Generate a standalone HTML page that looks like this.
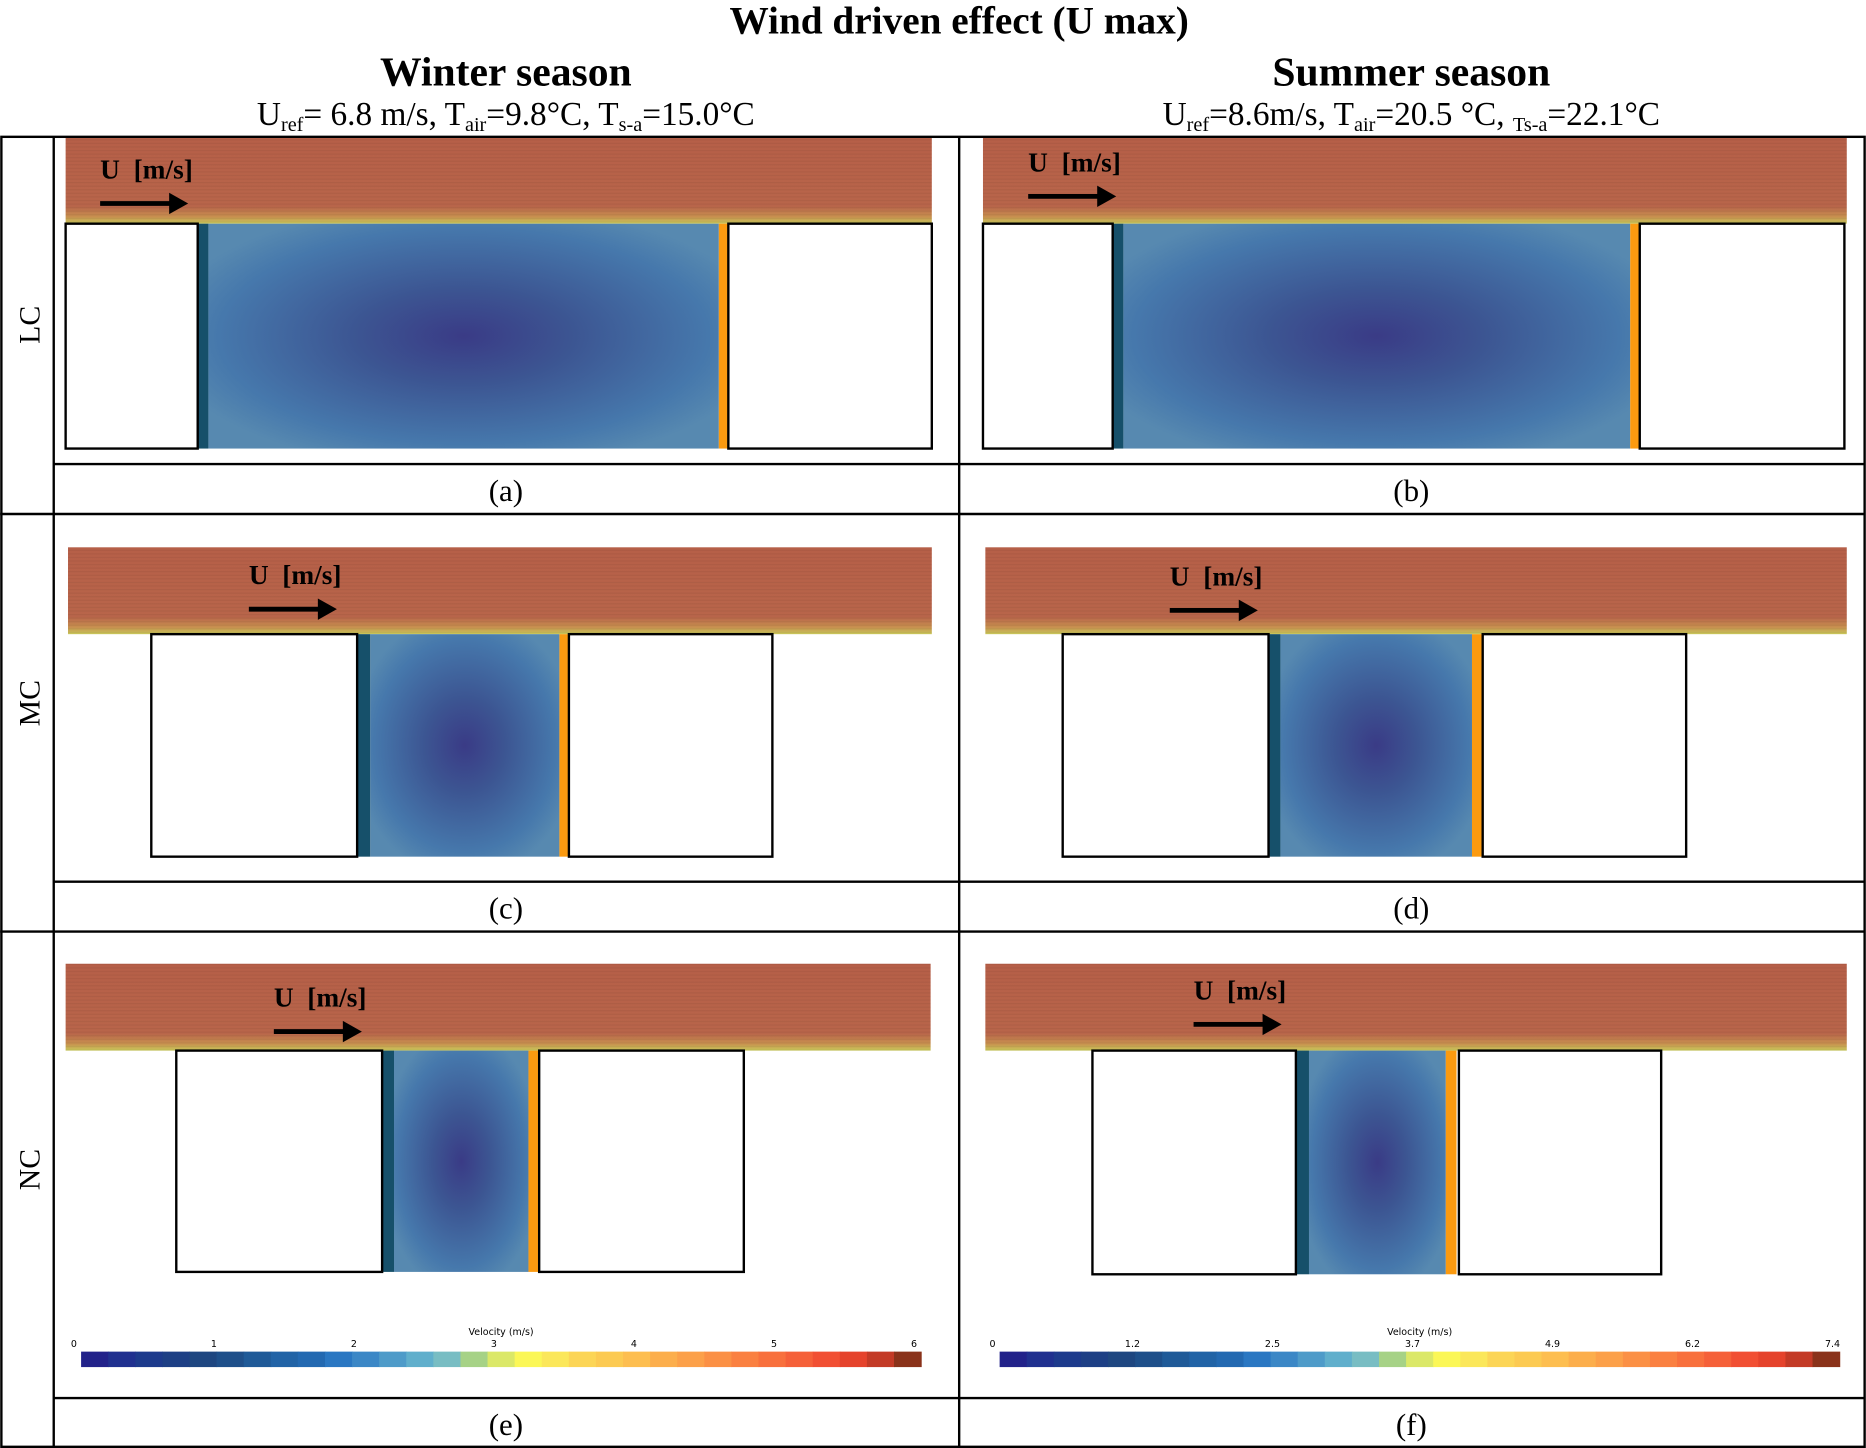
<!DOCTYPE html>
<html><head><meta charset="utf-8"><style>
html,body{margin:0;padding:0;background:#fff}
svg{display:block}
text{font-family:"Liberation Serif",serif}
text.sans{font-family:"DejaVu Sans",sans-serif}
</style></head><body>
<svg id="fig" width="1866" height="1448" viewBox="0 0 1568 1217" xmlns="http://www.w3.org/2000/svg">
<defs>
<linearGradient id="bandG" x1="0" y1="0" x2="0" y2="1">
<stop offset="0" stop-color="#b65f48"/><stop offset="0.8" stop-color="#b8654a"/><stop offset="0.92" stop-color="#c8904f"/><stop offset="1" stop-color="#c9c85a"/></linearGradient>
<radialGradient id="cavG" cx="0.5" cy="0.5" r="0.6">
<stop offset="0" stop-color="#3a3b86"/><stop offset="0.35" stop-color="#3c5592"/><stop offset="0.8" stop-color="#4678ac"/><stop offset="1" stop-color="#5789b0"/></radialGradient>
<pattern id="stripes" width="8" height="3" patternUnits="userSpaceOnUse"><rect width="8" height="1" fill="#000" opacity="0.05"/></pattern>
</defs>
<text x="806" y="28" font-size="33" font-weight="bold" text-anchor="middle">Wind driven effect (U max)</text>
<text x="425" y="72" font-size="35" font-weight="bold" text-anchor="middle">Winter season</text>
<text x="1186" y="72" font-size="35" font-weight="bold" text-anchor="middle">Summer season</text>
<text x="425" y="105" font-size="28" text-anchor="middle">U<tspan font-size="17" dy="5">ref</tspan><tspan dy="-5">= 6.8 m/s, T</tspan><tspan font-size="17" dy="5">air</tspan><tspan dy="-5">=9.8°C, T</tspan><tspan font-size="17" dy="5">s-a</tspan><tspan dy="-5">=15.0°C</tspan></text>
<text x="1186" y="105" font-size="28" text-anchor="middle">U<tspan font-size="17" dy="5">ref</tspan><tspan dy="-5">=8.6m/s, T</tspan><tspan font-size="17" dy="5">air</tspan><tspan dy="-5">=20.5 °C, </tspan><tspan font-size="17" dy="5">Ts-a</tspan><tspan dy="-5">=22.1°C</tspan></text>
<g id="panels"></g>
<g id="grid" stroke="#000" fill="none">
<rect x="1" y="115" width="1566" height="1101" stroke-width="2"/>
<line x1="45" y1="115" x2="45" y2="1217" stroke-width="2"/>
<line x1="806" y1="115" x2="806" y2="1217" stroke-width="2"/>
<line x1="45" y1="390" x2="1567" y2="390" stroke-width="2"/>
<line x1="0" y1="432" x2="1567" y2="432" stroke-width="2"/>
<line x1="45" y1="741" x2="1567" y2="741" stroke-width="2"/>
<line x1="0" y1="783" x2="1567" y2="783" stroke-width="2"/>
<line x1="45" y1="1175" x2="1567" y2="1175" stroke-width="2"/>
</g>
<text transform="translate(33,273) rotate(-90)" font-size="25" text-anchor="middle">LC</text>
<text transform="translate(33,591) rotate(-90)" font-size="25" text-anchor="middle">MC</text>
<text transform="translate(33,983) rotate(-90)" font-size="25" text-anchor="middle">NC</text>
<text x="425" y="421" font-size="26" text-anchor="middle">(a)</text>
<text x="1186" y="421" font-size="26" text-anchor="middle">(b)</text>
<text x="425" y="772" font-size="26" text-anchor="middle">(c)</text>
<text x="1186" y="772" font-size="26" text-anchor="middle">(d)</text>
<text x="425" y="1206" font-size="26" text-anchor="middle">(e)</text>
<text x="1186" y="1206" font-size="26" text-anchor="middle">(f)</text>
<g id="bars"></g>
</svg>
<script>
const NS='http://www.w3.org/2000/svg';
const cbColors=['#22228a','#20308f','#1d3a8c','#1d3f85','#1e4680','#1e4f8a','#1f5a98','#2163a6','#2369b1','#2a77c2','#3b87c6','#4e9bc9','#60afcc','#78bdc3','#a6d286','#dbe868','#fbf757','#fbe75a','#fcd556','#fcca52','#fdbe50','#fcae4c','#fca049','#fb9045','#fa8041','#f8703d','#f56039','#f14f33','#e5432c','#c33a26','#8a321a'];
const winterTicks=['0','1','2','3','4','5','6'];
const summerTicks=['0','1.2','2.5','3.7','4.9','6.2','7.4'];
function el(tag,attrs,parent){const e=document.createElementNS(NS,tag);for(const k in attrs)e.setAttribute(k,attrs[k]);parent.appendChild(e);return e;}
const panels=[
{id:'a',bx0:55,bx1:783,by0:116,by1:188,lb:[55,166],tw:[166,175],cv:[175,604],ow:[604,612],rb:[612,783],yb:377,lx:84,ly:158},
{id:'b',bx0:826,bx1:1552,by0:116,by1:188,lb:[826,935],tw:[935,944],cv:[944,1370],ow:[1370,1378],rb:[1378,1550],yb:377,lx:864,ly:152},
{id:'c',bx0:57,bx1:783,by0:460,by1:533,lb:[127,300],tw:[300,311],cv:[311,470],ow:[470,478],rb:[478,649],yb:720,lx:209,ly:499},
{id:'d',bx0:828,bx1:1552,by0:460,by1:533,lb:[893,1066],tw:[1066,1076],cv:[1076,1237],ow:[1237,1246],rb:[1246,1417],yb:720,lx:983,ly:500},
{id:'e',bx0:55,bx1:782,by0:810,by1:883,lb:[148,321],tw:[321,331],cv:[331,444],ow:[444,453],rb:[453,625],yb:1069,lx:230,ly:854},
{id:'f',bx0:828,bx1:1552,by0:810,by1:883,lb:[918,1089],tw:[1089,1100],cv:[1100,1215],ow:[1215,1224],rb:[1226,1396],yb:1071,lx:1003,ly:848}];
const P=document.getElementById('panels');
panels.forEach(p=>{
 const g=el('g',{},P);
 
 
 const band=el('rect',{x:p.bx0,y:p.by0,width:p.bx1-p.bx0,height:p.by1-p.by0,fill:'url(#bandG)'},g);
 
 
 el('rect',{x:p.bx0,y:p.by0,width:p.bx1-p.bx0,height:p.by1-p.by0,fill:'url(#stripes)'},g);
 const cav=el('rect',{x:p.cv[0],y:p.by1,width:p.cv[1]-p.cv[0],height:p.yb-p.by1,fill:'url(#cavG)'},g);
 
 
 const tw=el('rect',{x:p.tw[0],y:p.by1,width:p.tw[1]-p.tw[0],height:p.yb-p.by1,fill:'#16506a'},g);
 
 
 const ow=el('rect',{x:p.ow[0],y:p.by1,width:p.ow[1]-p.ow[0],height:p.yb-p.by1,fill:'#fb9a10'},g);
 
 
 [p.lb,p.rb].forEach((b,i)=>{
  const r=el('rect',{x:b[0],y:p.by1,width:b[1]-b[0],height:p.yb-p.by1,fill:'#fff',stroke:'#000','stroke-width':2},g);
  
  
 });
 const t=el('text',{x:p.lx,y:p.ly-8,'font-size':23,'font-weight':'bold'},g);
 t.textContent='U\u00a0\u00a0[m/s]';
 
 
 const a=el('path',{d:`M${p.lx} ${p.ly+11}h58v-7l16 9l-16 9v-7h-58z`,fill:'#000'},g);
 
 
});
const B=document.getElementById('bars');
function colorbar(x0,x1,y,ticks,name){
 const g=el('g',{},B);
 
 
 const w=(x1-x0)/cbColors.length;
 cbColors.forEach((c,i)=>{el('rect',{x:x0+i*w,y:y,width:w+0.5,height:13,fill:c},g);});
 const tt=el('text',{x:(x0+x1)/2,y:y-14,'font-size':8,'text-anchor':'middle','class':'sans'},g);
 tt.textContent='Velocity (m/s)';
 
 
 ticks.forEach((v,i)=>{
  const x=x0-6+i*(x1-x0)/(ticks.length-1);
  const t=el('text',{x:x,y:y-4,'font-size':8,'text-anchor':'middle','class':'sans'},g);
  t.textContent=v;
  
  
 });
}
colorbar(68,774,1136,winterTicks,'winter-colorbar');
colorbar(840,1546,1136,summerTicks,'summer-colorbar');
</script>
</body></html>
